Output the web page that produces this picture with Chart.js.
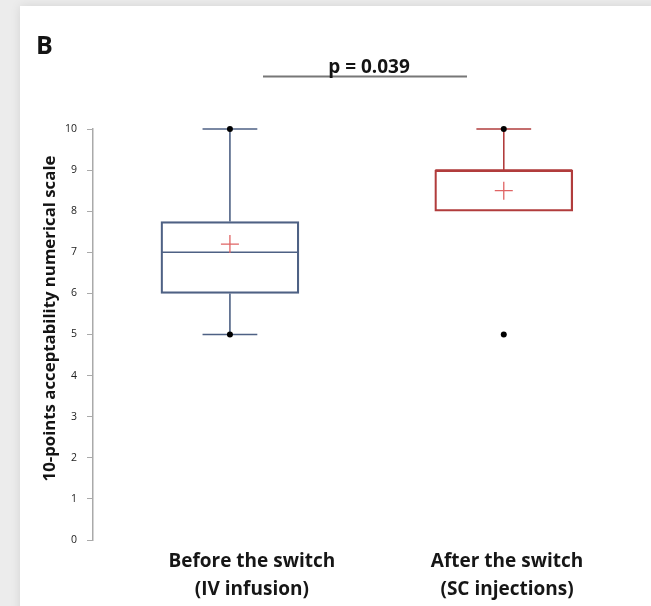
<!DOCTYPE html>
<html><head><meta charset="utf-8">
<script src="https://cdn.jsdelivr.net/npm/chart.js@4/dist/chart.umd.min.js"></script>
<style>
html,body{margin:0;padding:0;width:651px;height:606px;overflow:hidden;background:#ececec;}
#card{position:absolute;left:20px;top:6px;width:640px;height:620px;background:#fff;box-shadow:0 0 10px rgba(0,0,0,0.10);}
#wrap{position:absolute;left:0;top:0;width:651px;height:606px;}
</style></head><body>
<div id="card"></div>
<div id="wrap"><canvas id="c" width="651" height="606"></canvas></div>
<script>
// ---- data ----
const categories = [['Before the switch', '(IV infusion)'], ['After the switch', '(SC injections)']];
const whiskerLow = [5, 8];
const q1 = [6, 8];
const median = [7, 9];
const q3 = [7.75, 9];
const whiskerHigh = [10, 10];
const means = [7.2, 8.5];
const minimum = [5, 5];
const maximum = [10, 10];
const yTickValues = [0, 1, 2, 3, 4, 5, 6, 7, 8, 9, 10];
const pValueLabel = 'p = 0.039';
const panelLabel = 'B';
const yTitle = '10-points acceptability numerical scale';

// ---- style ----
const boxColors = ['#4e6184', '#b13c3c'];
const meanColor = '#e06464';
const BOX_HALF = 0.25, CAP_HALF = 0.1;
const LABEL_SHIFT = [0.08, 0.012];
const FONT = "'Open Sans', 'Liberation Sans', sans-serif";

const datasets = [];
// extreme points (on top)
datasets.push({
  type: 'scatter', clip: false,
  data: categories.flatMap((c, i) => [{x: i + 1, y: minimum[i]}, {x: i + 1, y: maximum[i]}]),
  pointRadius: 3, pointBackgroundColor: '#000', pointBorderWidth: 0, pointHoverRadius: 3
});
// means
datasets.push({
  type: 'scatter', clip: false,
  data: categories.map((c, i) => ({x: i + 1, y: means[i]})),
  pointStyle: 'cross', pointRadius: 9, pointBorderColor: meanColor, pointBorderWidth: 1.3, pointHoverRadius: 9
});
categories.forEach((c, i) => {
  const x = i + 1, col = boxColors[i];
  const line = (pts) => datasets.push({type: 'line', clip: false, data: pts, borderColor: col, borderWidth: 1.6, pointRadius: 0, fill: false, tension: 0});
  line([{x: x - BOX_HALF, y: median[i]}, {x: x + BOX_HALF, y: median[i]}]);
  if (whiskerHigh[i] > q3[i]) {
    line([{x: x, y: q3[i]}, {x: x, y: whiskerHigh[i]}]);
    line([{x: x - CAP_HALF, y: whiskerHigh[i]}, {x: x + CAP_HALF, y: whiskerHigh[i]}]);
  }
  if (whiskerLow[i] < q1[i]) {
    line([{x: x, y: q1[i]}, {x: x, y: whiskerLow[i]}]);
    line([{x: x - CAP_HALF, y: whiskerLow[i]}, {x: x + CAP_HALF, y: whiskerLow[i]}]);
  }
});
// boxes (floating bars)
datasets.push({
  type: 'bar', clip: false,
  data: categories.map((c, i) => ({x: i + 1, y: [q1[i], q3[i]]})),
  backgroundColor: 'rgba(255,255,255,0)', borderColor: boxColors, borderWidth: 1.6,
  borderSkipped: false, barThickness: 138
});

const annotations = {
  id: 'annotations',
  afterDraw(chart) {
    const ctx = chart.ctx;
    ctx.save();
    ctx.fillStyle = '#141414';
    ctx.font = "bold 25px " + FONT;
    ctx.textAlign = 'left'; ctx.textBaseline = 'alphabetic';
    ctx.fillText(panelLabel, 36, 54);
    // significance bar
    ctx.strokeStyle = '#777'; ctx.lineWidth = 2;
    ctx.beginPath(); ctx.moveTo(263, 76.5); ctx.lineTo(467, 76.5); ctx.stroke();
    ctx.font = "bold 19px " + FONT;
    ctx.textAlign = 'center';
    ctx.fillText(pValueLabel, 369, 73);
    // y title
    ctx.translate(50, 318.5);
    ctx.rotate(-Math.PI / 2);
    ctx.font = "bold 16.8px " + FONT;
    ctx.textBaseline = 'middle';
    ctx.fillText(yTitle, 0, 0);
    ctx.restore();
  }
};

new Chart(document.getElementById('c'), {
  type: 'scatter',
  data: {datasets},
  plugins: [annotations],
  options: {
    responsive: false, animation: false,
    layout: {padding: {top: 129, right: 7, left: 0, bottom: 0}},
    plugins: {legend: {display: false}, tooltip: {enabled: false}},
    events: [],
    scales: {
      x: {
        type: 'linear', min: 0.5, max: 2.5, offset: false,
        grid: {display: false, offset: false}, border: {display: false},
        afterBuildTicks: s => { s.ticks = categories.map((c, i) => ({value: i + 1 + LABEL_SHIFT[i]})); },
        afterFit: s => { s.height = 66; },
        ticks: {
          autoSkip: false, maxRotation: 0, padding: 0, color: '#161616',
          font: {family: FONT, size: 19, weight: 'bold', lineHeight: '28px'},
          callback: (v, idx) => categories[idx]
        }
      },
      y: {
        type: 'linear', min: 0, max: 10,
        afterBuildTicks: s => { s.ticks = yTickValues.map(v => ({value: v})); },
        afterFit: s => { s.width = 93; },
        grid: {drawOnChartArea: false, drawTicks: true, tickLength: 6, color: '#aaaaaa', lineWidth: 1},
        border: {color: '#aaaaaa', width: 1.5},
        ticks: {padding: 10, color: '#222', font: {family: FONT, size: 10.5}}
      }
    }
  }
});
</script>
</body></html>
